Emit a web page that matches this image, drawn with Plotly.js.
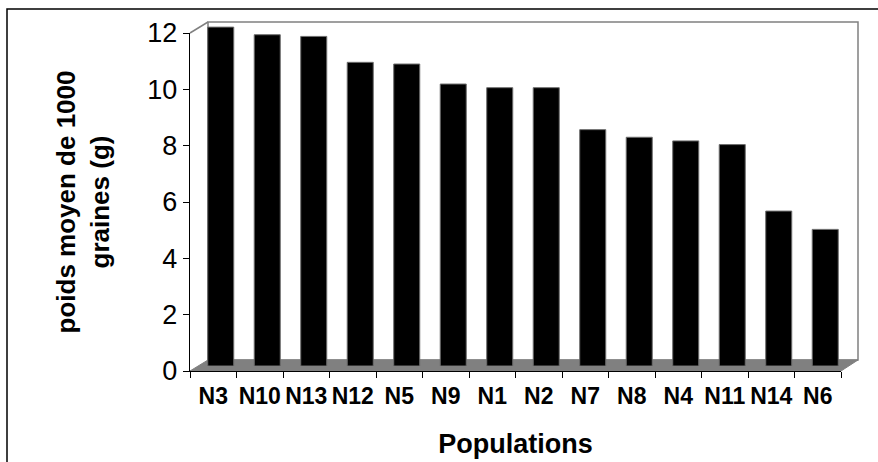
<!DOCTYPE html>
<html><head><meta charset="utf-8">
<script src="https://cdn.plot.ly/plotly-3.0.1.min.js"></script>
<style>html,body{margin:0;padding:0;background:#fff}</style>
</head><body><div id="chart" style="width:878px;height:462px"></div>
<script>
const populations = ['N3','N10','N13','N12','N5','N9','N1','N2','N7','N8','N4','N11','N14','N6'];
const poidsMoyen = [12.03,11.76,11.70,10.78,10.72,10.01,9.88,9.88,8.39,8.12,7.99,7.86,5.50,4.85];
const yTickVals = [0,2,4,6,8,10,12];
const yTickText = ['0','2','4','6','8','10','12'];

const W = 878, H = 462;
const px = v => v / W;
const py = v => 1 - v / H;
const FONT = 'Liberation Sans, Arial, Helvetica, sans-serif';
const GRAY = '#808080';

function path(pts, close) {
  return pts.map((p, i) => (i ? 'L' : 'M') + px(p[0]).toFixed(5) + ',' + py(p[1]).toFixed(5)).join(' ') + (close ? ' Z' : '');
}

const shapes = [
  {type:'rect', xref:'paper', yref:'paper', x0:px(7), x1:px(890), y0:py(9), y1:py(480),
   line:{color:'#000', width:1.5}, fillcolor:'rgba(0,0,0,0)', layer:'below'},
  {type:'rect', xref:'paper', yref:'paper', x0:px(208), x1:px(858), y0:py(22), y1:py(360),
   line:{color:GRAY, width:1.5}, fillcolor:'#fff', layer:'below'},
  {type:'path', xref:'paper', yref:'paper', path:path([[190,33],[208,22]]), line:{color:GRAY, width:1.5}, layer:'below'},
  {type:'path', xref:'paper', yref:'paper', path:path([[190,371],[841,371],[858,360],[208,360]], true),
   fillcolor:GRAY, line:{color:GRAY, width:1}, layer:'below'}
];

// invisible anchor trace so the front value axis (x/y) is drawn
const axisTrace = {
  type:'scatter', mode:'none', x: populations, y: poidsMoyen, xaxis:'x', yaxis:'y',
  hoverinfo:'skip', showlegend:false
};

const barTrace = {
  type:'bar', x: populations, y: poidsMoyen, xaxis:'x', yaxis:'y2',
  width: 0.56, offset: -0.119,
  marker:{color:'#000', line:{color:'#6e6e6e', width:1}},
  hoverinfo:'x+y', showlegend:false
};

const layout = {
  width: W, height: H,
  margin:{l:0, r:0, t:0, b:0},
  paper_bgcolor:'#fff', plot_bgcolor:'rgba(0,0,0,0)',
  showlegend:false,
  font:{family:FONT, color:'#000'},
  xaxis:{
    domain:[px(190), px(841)], anchor:'y', type:'category',
    categoryorder:'array', categoryarray: populations, range:[-0.5, 13.5],
    showline:true, linecolor:'#000', linewidth:1.2,
    ticks:'outside', tickson:'boundaries', ticklen:6, tickcolor:'#000', tickwidth:1,
    tickangle:0, ticklabelstandoff:4,
    showgrid:false, zeroline:false,
    tickfont:{family:FONT, size:23, color:'#000', weight:'bold'},
    title:{text:'<b>Populations</b>', font:{family:FONT, size:27, color:'#000'}, standoff:26},
    fixedrange:true
  },
  yaxis:{
    domain:[1-371/H, 1-33/H], anchor:'x', range:[0,12],
    tickmode:'array', tickvals:yTickVals, ticktext:yTickText,
    showline:true, linecolor:'#000', linewidth:1.2,
    ticks:'outside', ticklen:6, tickcolor:'#000', tickwidth:1,
    showgrid:false, zeroline:false,
    tickfont:{family:FONT, size:27, color:'#000'},
    title:{text:'<b>poids moyen de 1000<br>graines (g)</b>', font:{family:FONT, size:26, color:'#000'}, standoff:30},
    fixedrange:true
  },
  yaxis2:{
    domain:[1-366/H, 1-10/H], anchor:'x', range:[0, 356/28.17],
    visible:false, showgrid:false, zeroline:false, fixedrange:true
  },
  bargap:0.44,
  shapes: shapes
};

Plotly.newPlot('chart', [axisTrace, barTrace], layout, {displayModeBar:false, staticPlot:true});
</script>
</body></html>
